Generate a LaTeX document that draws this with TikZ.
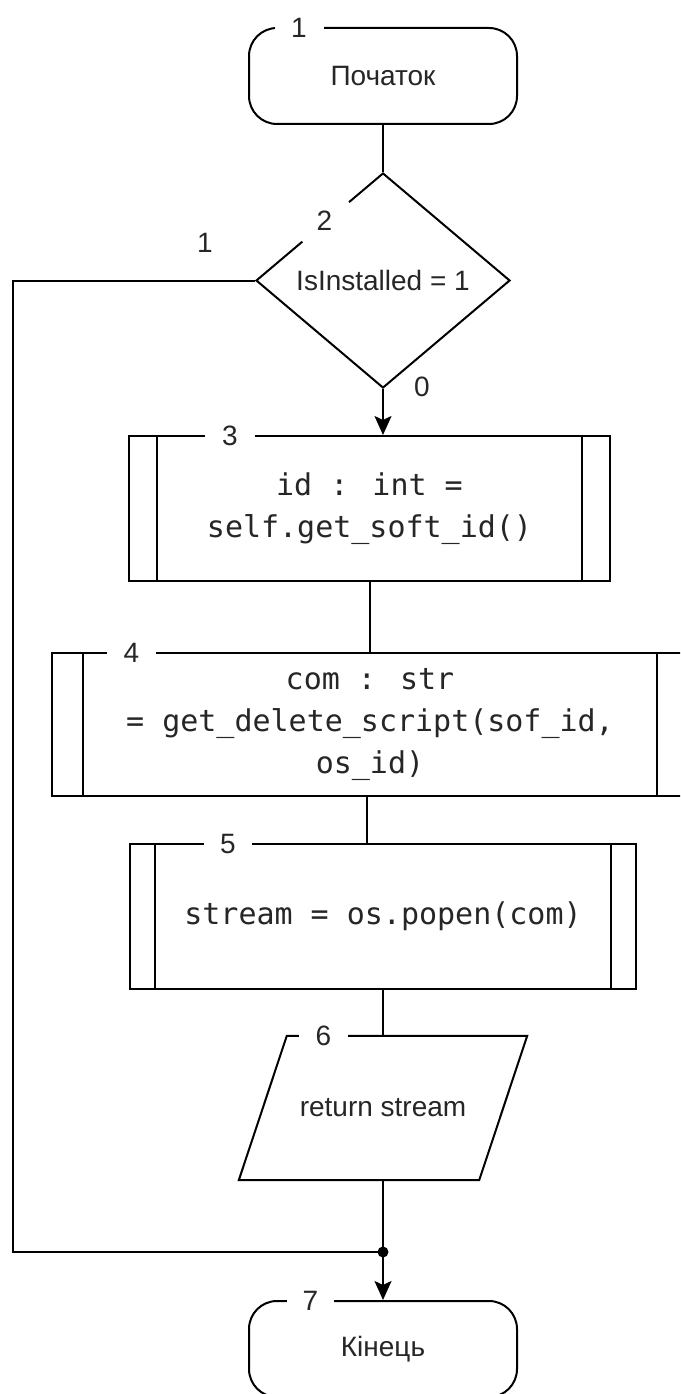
\documentclass[tikz,border=0pt]{standalone}
\usepackage{fontspec}
\setmainfont{Liberation Sans}
\newfontfamily\codefont{DejaVu Sans Mono}
\usetikzlibrary{shapes.geometric,arrows.meta}
\definecolor{txt}{HTML}{262626}

\tikzset{
  conn/.style={draw=black, line width=2pt},
  arr/.style={conn, -{Stealth[length=19pt, width=17pt, inset=4pt]}},
  lbl/.style={text=txt, font=\fontsize{28}{34}\selectfont},
  term/.style={lbl, draw, line width=2pt, rounded corners=28pt,
    minimum width=268pt, minimum height=96pt, inner sep=0pt},
  decision/.style={lbl, draw, line width=2pt, shape=diamond, aspect=1,
    minimum width=254pt, minimum height=215pt, inner sep=0pt},
  subproc/.style={draw, line width=2pt, inner sep=0pt, align=center,
    text=txt, font=\codefont\fontsize{30}{42}\selectfont,
    path picture={
      \draw[line width=2pt]
        ([xshift=#1]path picture bounding box.north west) --
        ([xshift=#1]path picture bounding box.south west);
      \draw[line width=2pt]
        ([xshift=-#1]path picture bounding box.north east) --
        ([xshift=-#1]path picture bounding box.south east);
    }},
  iobox/.style={lbl, inner sep=0pt, minimum width=288pt, minimum height=144pt},
  numtag/.style={lbl, fill=white, inner sep=0pt, minimum width=#1, minimum height=22pt},
}

\begin{document}
\begin{tikzpicture}[x=1pt, y=-1pt]
  \fill[white] (0,0) rectangle (680,1394);
  \useasboundingbox (0,0) rectangle (680,1394);
  \clip (0,0) rectangle (680,1394);

  % blocks
  \node[term] (s) at (383,76) {Початок};
  \node[decision] (d) at (383,280.5) {IsInstalled = 1};
  \node[subproc=28pt, minimum width=481pt, minimum height=145pt] (b3) at (369.5,508.5)
    {id : int =\\self.get\_soft\_id()};
  \node[subproc=31pt, minimum width=636pt, minimum height=143pt] (b4) at (370,724.5)
    {com : str\\= get\_delete\_script(sof\_id,\\os\_id)};
  \node[subproc=25pt, minimum width=506pt, minimum height=145pt] (b5) at (383,916.5)
    {stream = os.popen(com)};
  \node[iobox] (p) at (383,1108) {return stream};
  \draw[line width=2pt] ([xshift=48pt]p.north west) -- (p.north east)
    -- ([xshift=-48pt]p.south east) -- (p.south west) -- cycle;
  \node[term] (e) at (383,1349) {Кінець};

  % connectors
  \coordinate (j) at (383,1252);
  \coordinate (lc) at (13,1252);
  \coordinate (c45) at ([xshift=-3pt]b4.south);
  \draw[conn] (s.south) -- (d.north);
  \draw[arr] (d.south) -- (d.south |- b3.north);
  \draw[conn] (b3.south) -- (b3.south |- b4.north);
  \draw[conn] (c45) -- (c45 |- b5.north);
  \draw[conn] (b5.south) -- (p.north);
  \draw[conn] (p.south) -- (j);
  \draw[arr] (j) -- (j |- e.north);
  \draw[conn] (d.west) -| (lc) -- (j);
  \fill (j) circle (5.5pt);

  % branch labels
  \node[lbl] (yes) at (205,243) {1};
  \node[lbl] (no) at (422,387) {0};

  % block numbers set into the outlines
  \node[numtag=49pt] (n1) at (299,28) {1};
  \node[lbl, shape=circle, fill=white, inner sep=0pt, minimum size=61pt] (n2) at (324.5,220.5) {2};
  \node[numtag=50pt] (n3) at (230,436) {3};
  \node[numtag=49pt] (n4) at (131.5,653) {4};
  \node[numtag=48pt] (n5) at (228,844) {5};
  \node[numtag=49pt] (n6) at (323.5,1036) {6};
  \node[numtag=47pt] (n7) at (310.5,1301) {7};
\end{tikzpicture}
\end{document}
